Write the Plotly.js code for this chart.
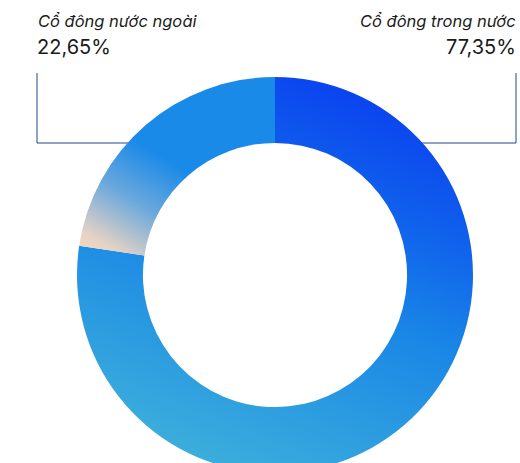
<!DOCTYPE html>
<html>
<head>
<meta charset="utf-8">
<script src="https://cdn.plot.ly/plotly-3.0.1.min.js"></script>
<style>
html,body{margin:0;padding:0;overflow:hidden;background:#fff;width:520px;height:463px;}
#chart{width:520px;height:550px;}
</style>
</head>
<body>
<div id="chart"></div>
<script>
const labels = ["Cổ đông trong nước", "Cổ đông nước ngoài"];
const values = [77.35, 22.65];
const valueLabels = ["77,35%", "22,65%"];
const baseColors = ["#1670e8", "#5aa0d8"];

const W = 520, H = 550;
const px = x => x / W;
const py = y => 1 - y / H;

const data = [{
  type: "pie",
  labels: labels,
  values: values,
  sort: false,
  direction: "clockwise",
  rotation: 0,
  hole: 0.667,
  textinfo: "none",
  hoverinfo: "none",
  showlegend: false,
  marker: { colors: baseColors, line: { width: 0 } },
  domain: { x: [px(77), px(473)], y: [py(473), py(77)] }
}];

const fontFam = "Inter, 'Liberation Sans', Arial, sans-serif";
const lineColor = "#1f4a8c";

const layout = {
  width: W, height: H,
  margin: { l: 0, r: 0, t: 0, b: 0 },
  paper_bgcolor: "#ffffff",
  plot_bgcolor: "#ffffff",
  annotations: [
    { x: px(36), y: py(21), xref: "paper", yref: "paper", xanchor: "left", yanchor: "middle",
      text: "<i>" + labels[1] + "</i>", showarrow: false, font: { family: fontFam, size: 16.5, color: "#1a1a1a" } },
    { x: px(35), y: py(47), xref: "paper", yref: "paper", xanchor: "left", yanchor: "middle",
      text: valueLabels[1], showarrow: false, font: { family: fontFam, size: 20, color: "#1a1a1a" } },
    { x: px(518), y: py(21), xref: "paper", yref: "paper", xanchor: "right", yanchor: "middle",
      text: "<i>" + labels[0] + "</i>", showarrow: false, font: { family: fontFam, size: 16.5, color: "#1a1a1a" } },
    { x: px(518), y: py(47), xref: "paper", yref: "paper", xanchor: "right", yanchor: "middle",
      text: valueLabels[0], showarrow: false, font: { family: fontFam, size: 20, color: "#1a1a1a" } }
  ],
  shapes: [
    { type: "path", xref: "paper", yref: "paper", layer: "below",
      path: `M ${px(37)} ${py(73)} L ${px(37)} ${py(143)} L ${px(140)} ${py(143)}`,
      line: { color: lineColor, width: 1 } },
    { type: "path", xref: "paper", yref: "paper", layer: "below",
      path: `M ${px(516)} ${py(73)} L ${px(516)} ${py(143)} L ${px(415)} ${py(143)}`,
      line: { color: lineColor, width: 1 } }
  ]
};

Plotly.newPlot("chart", data, layout, { staticPlot: true, displayModeBar: false }).then(gd => {
  const NS = "http://www.w3.org/2000/svg";
  const svg = gd.querySelector("svg.main-svg");
  let defs = svg.querySelector("defs");
  if (!defs) { defs = document.createElementNS(NS, "defs"); svg.insertBefore(defs, svg.firstChild); }
  function grad(id, x1, y1, x2, y2, stops) {
    const g = document.createElementNS(NS, "linearGradient");
    g.setAttribute("id", id);
    g.setAttribute("x1", x1); g.setAttribute("y1", y1);
    g.setAttribute("x2", x2); g.setAttribute("y2", y2);
    stops.forEach(([o, c]) => {
      const s = document.createElementNS(NS, "stop");
      s.setAttribute("offset", o); s.setAttribute("stop-color", c);
      g.appendChild(s);
    });
    defs.appendChild(g);
  }
  grad("gDom", 0.78, 0.0, 0.38, 1.0, [[0, "#0a3cf0"], [0.3, "#1062ec"], [0.55, "#1a88e6"], [1, "#3caedb"]]);
  grad("gFor", 0.05, 0.98, 0.5, 0.3, [[0, "#f3d8bd"], [0.1, "#e4d2c4"], [0.45, "#6aa8dc"], [0.8, "#1a8ae8"], [1, "#1a8ae8"]]);
  const paths = gd.querySelectorAll(".slice path.surface");
  if (paths[0]) paths[0].style.fill = "url(#gDom)";
  if (paths[1]) paths[1].style.fill = "url(#gFor)";
});
</script>
</body>
</html>
